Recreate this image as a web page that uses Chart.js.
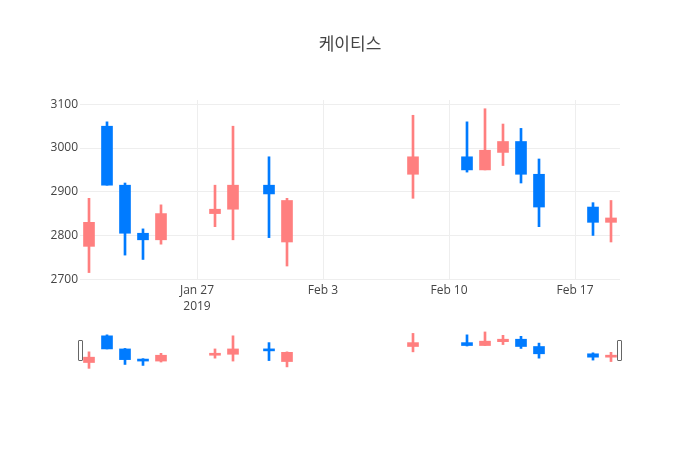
<!DOCTYPE html>
<html>
<head>
<meta charset="utf-8">
<script src="https://cdn.jsdelivr.net/npm/chart.js@4.4.1/dist/chart.umd.min.js"></script>
<style>
  html, body { margin: 0; padding: 0; background: #fff; }
  #wrap { position: relative; width: 700px; height: 450px; }
  #mainChart { position: absolute; left: 0; top: 0; }
  #sliderChart { position: absolute; left: 80px; top: 330px; }
  #title { position: absolute; left: 0; width: 700px; top: 33px; text-align: center;
    font: 17px 'Open Sans', 'Noto Sans CJK KR', sans-serif; color: #444; line-height: 22px; }
  .grabber { position: absolute; top: 340px; width: 3px; height: 19px; background: #fff;
    border: 1px solid #666; border-radius: 1px; }
</style>
</head>
<body>
<div id="wrap">
  <canvas id="mainChart" width="700" height="450"></canvas>
  <canvas id="sliderChart" width="540" height="40"></canvas>
  <div id="title">케이티스</div>
  <div class="grabber" style="left:78px"></div>
  <div class="grabber" style="left:617px"></div>
</div>
<script>
// trading days and OHLC values
const tradeDates = ['2019-01-21', '2019-01-22', '2019-01-23', '2019-01-24', '2019-01-25', '2019-01-28', '2019-01-29', '2019-01-31', '2019-02-01',
  '2019-02-08', '2019-02-11', '2019-02-12', '2019-02-13', '2019-02-14', '2019-02-15', '2019-02-18', '2019-02-19'];
const openValues = [2775, 3050, 2915, 2805, 2790, 2850, 2860, 2915, 2785, 2940, 2980, 2950, 2990, 3015, 2940, 2865, 2830];
const highValues = [2885, 3060, 2920, 2815, 2870, 2915, 3050, 2980, 2885, 3075, 3060, 3090, 3055, 3045, 2975, 2875, 2880];
const lowValues = [2715, 2915, 2755, 2745, 2780, 2820, 2790, 2795, 2730, 2885, 2945, 2950, 2960, 2920, 2820, 2800, 2785];
const closeValues = [2830, 2915, 2805, 2790, 2850, 2860, 2915, 2895, 2880, 2980, 2950, 2995, 3015, 2940, 2865, 2830, 2840];

// axis ticks
const xTickDates = ['2019-01-27', '2019-02-03', '2019-02-10', '2019-02-17'];
const xTickLabels = [['Jan 27', '2019'], 'Feb 3', 'Feb 10', 'Feb 17'];
const yTickValues = [2700, 2800, 2900, 3000, 3100];

const upColor = '#ff7f7f'; // increasing
const downColor = '#007bff'; // decreasing
const textColor = '#444';
const gridColor = '#eee';

const dayMs = 86400000;
const firstDay = Date.parse(tradeDates[0]);
function toDay(dateText) { // days since first trading day
  return (Date.parse(dateText) - firstDay) / dayMs;
}

const xMin = -0.5; // half a day before first candle
const xMax = toDay(tradeDates[tradeDates.length - 1]) + 0.5; // half a day after last candle
const yMin = 2698;
const yMax = 3110;

const candleColors = openValues.map((o, i) => closeValues[i] >= o ? upColor : downColor);
const bodyData = tradeDates.map((d, i) => ({ x: toDay(d), y: [openValues[i], closeValues[i]] }));
const wickData = tradeDates.map((d, i) => ({ x: toDay(d), y: [lowValues[i], highValues[i]] }));

function candleDatasets(bodyWidth) {
  return [
    { label: 'body', data: bodyData, backgroundColor: candleColors, barThickness: bodyWidth, grouped: false, order: 0, minBarLength: 2 },
    { label: 'wick', data: wickData, backgroundColor: candleColors, barThickness: 2, grouped: false, order: 1 }
  ];
}

Chart.defaults.font.family = "'Open Sans', 'Noto Sans CJK KR', sans-serif";
Chart.defaults.animation = false;

new Chart(document.getElementById('mainChart'), {
  type: 'bar',
  data: { datasets: candleDatasets(11) },
  options: {
    responsive: false,
    devicePixelRatio: 1,
    layout: { padding: { left: 0, top: 100, right: 80, bottom: 130 } },
    plugins: { legend: { display: false }, tooltip: { enabled: false } },
    scales: {
      x: {
        type: 'linear',
        min: xMin,
        max: xMax,
        offset: false,
        grid: { color: gridColor, offset: false, drawTicks: false },
        border: { display: false },
        afterBuildTicks: (scale) => { scale.ticks = xTickDates.map(d => ({ value: toDay(d) })); },
        afterFit: (scale) => { scale.height = 40; },
        ticks: {
          color: textColor,
          font: { size: 12, lineHeight: 1.3 },
          padding: 3,
          maxRotation: 0,
          autoSkip: false,
          callback: (value) => {
            const idx = xTickDates.findIndex(d => toDay(d) === value);
            return idx >= 0 ? xTickLabels[idx] : '';
          }
        }
      },
      y: {
        min: yMin,
        max: yMax,
        grid: { color: gridColor, drawTicks: false },
        border: { display: false },
        afterBuildTicks: (scale) => { scale.ticks = yTickValues.map(v => ({ value: v })); },
        afterFit: (scale) => { scale.width = 80; },
        ticks: { color: textColor, font: { size: 12 }, padding: 2, callback: (value) => String(value) } // plain numbers, no commas
      }
    }
  }
});

// range slider preview with the same candles
new Chart(document.getElementById('sliderChart'), {
  type: 'bar',
  data: { datasets: candleDatasets(11) },
  options: {
    responsive: false,
    devicePixelRatio: 1,
    layout: { padding: 0 },
    plugins: { legend: { display: false }, tooltip: { enabled: false } },
    scales: {
      x: { type: 'linear', display: false, min: xMin, max: xMax, offset: false, grid: { offset: false } },
      y: { display: false, min: yMin, max: yMax }
    }
  }
});
</script>
</body>
</html>
